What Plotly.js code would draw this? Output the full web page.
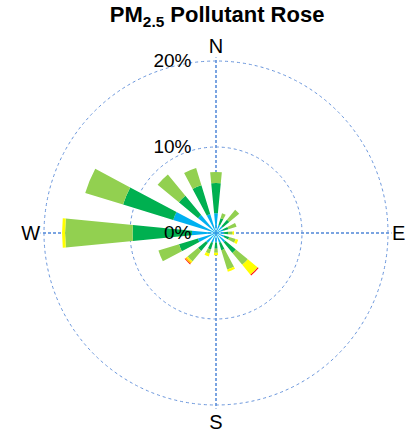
<!DOCTYPE html>
<html>
<head>
<meta charset="utf-8">
<script src="https://cdn.plot.ly/plotly-3.0.1.min.js"></script>
<style>html,body{margin:0;padding:0;background:#fff}#chart{width:412px;height:433px}</style>
</head>
<body>
<div id="chart"></div>
<script>
// Directions (degrees, clockwise from North)
const directions = [0, 22.5, 45, 67.5, 90, 112.5, 135, 157.5, 180, 202.5, 225, 247.5, 270, 292.5, 315, 337.5];
// Frequency (%) of each concentration bin per direction
const binBlue   = [2.3, 1.0, 1.0, 0.9, 0.9, 1.0, 1.4, 1.2, 1.1, 1.2, 1.5, 2.2, 2.8, 5.2, 2.7, 2.3];
const binDGreen = [3.5, 0.8, 1.0, 0.6, 0.5, 0.6, 1.6, 0.9, 0.7, 0.8, 1.2, 2.3, 6.9, 6.1, 2.9, 3.5];
const binLGreen = [1.3, 0.6, 1.5, 1.0, 0.5, 0.8, 1.8, 2.35, 0.5, 0.5, 1.6, 2.5, 7.85, 4.6, 3.2, 2.1];
const binYellow = [0, 0, 0, 0, 0.2, 0.3, 1.45, 0.25, 0.3, 0.35, 0.15, 0, 0.35, 0, 0, 0];
const binOrange = [0, 0, 0, 0, 0, 0, 0.05, 0, 0, 0, 0.2, 0, 0, 0, 0, 0];
const binRed    = [0, 0, 0, 0, 0, 0, 0.12, 0, 0, 0, 0.08, 0, 0, 0, 0, 0];
const radialTicks = [0, 10, 20];
const radialTickText = ['0%', '10%', '20%'];
const dirTicks = [0, 90, 180, 270];
const dirTickText = ['N', 'E', 'S', 'W'];

const series = [
  {v: binBlue, c: '#00B0F0'},
  {v: binDGreen, c: '#00B050'},
  {v: binLGreen, c: '#92D050'},
  {v: binYellow, c: '#FFFF00'},
  {v: binOrange, c: '#FFC000'},
  {v: binRed, c: '#FF0000'}
];

const traces = series.map(s => ({
  type: 'barpolar',
  r: s.v,
  theta: directions,
  width: directions.map(() => 11),
  marker: {color: s.c, line: {width: 0}},
  hoverinfo: 'skip'
}));

const rMax = 20.4;
const R = 172 * rMax / 20;
const cx = 216, cy = 233, H = 433, W = 412;
const labelPad = '<span style="color:rgba(0,0,0,0)">00</span>';
const layout = {
  width: W, height: H,
  margin: {l: 0, r: 0, t: 0, b: 0},
  paper_bgcolor: '#fff',
  showlegend: false,
  font: {family: 'Liberation Sans, Arial, sans-serif', color: '#000'},
  title: {
    text: '<b>PM<sub>2.5</sub> Pollutant Rose</b>',
    font: {size: 22, family: 'Liberation Sans, Arial, sans-serif', color: '#000'},
    x: 0.527, xanchor: 'center',
    yref: 'container', y: 0.966, yanchor: 'middle'
  },
  polar: {
    domain: {x: [(cx - R) / W, (cx + R) / W], y: [(H - cy - R) / H, (H - cy + R) / H]},
    bgcolor: '#fff',
    barmode: 'stack',
    radialaxis: {
      range: [0, rMax],
      tickmode: 'array', tickvals: radialTicks, ticktext: radialTickText.map(t => t + labelPad),
      angle: 90, side: 'counterclockwise', tickangle: 90,
      showline: false,
      ticks: '',
      tickfont: {size: 19, color: '#000'},
      gridcolor: '#6a96dc', griddash: 'dot', gridwidth: 1
    },
    angularaxis: {
      rotation: 90, direction: 'clockwise',
      tickmode: 'array', tickvals: dirTicks, ticktext: dirTickText,
      showline: false,
      ticks: '',
      tickfont: {size: 20, color: '#000'},
      gridcolor: '#4f86d8', griddash: '3px,2px', gridwidth: 1.5
    }
  }
};

Plotly.newPlot('chart', traces, layout, {displayModeBar: false, staticPlot: true});
</script>
</body>
</html>
